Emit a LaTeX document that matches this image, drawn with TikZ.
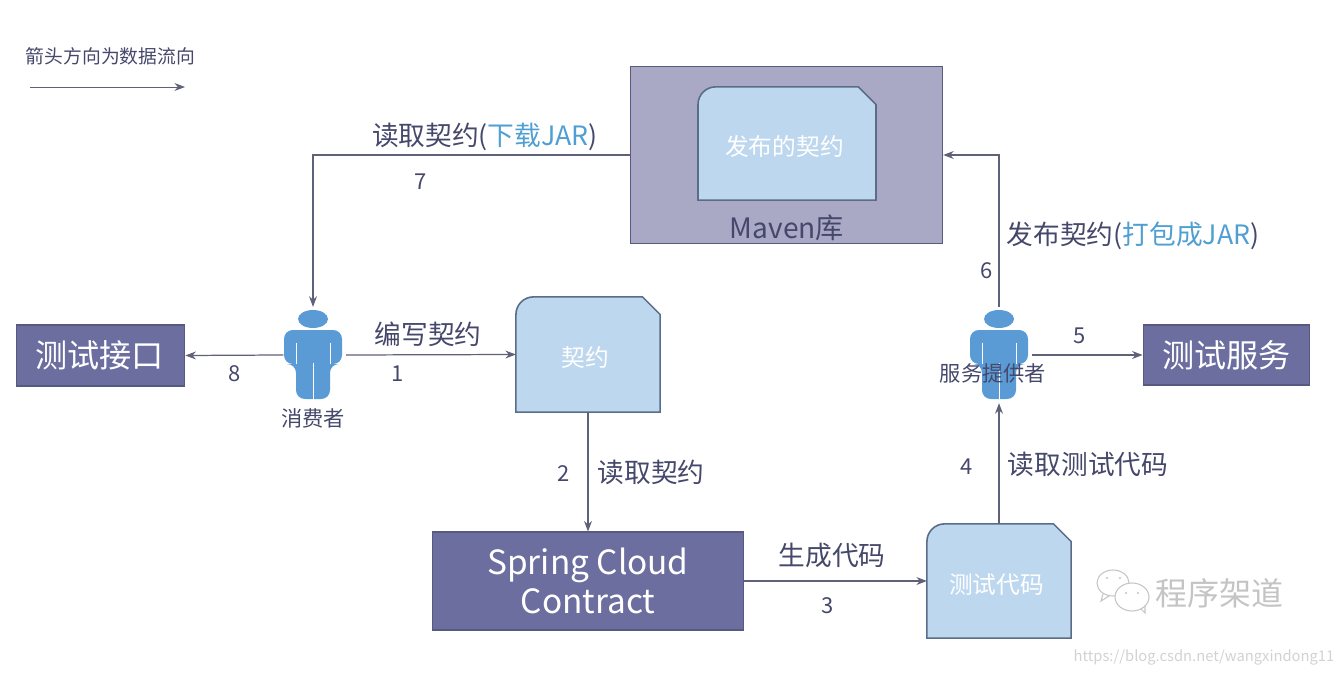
\documentclass[tikz,border=0pt]{standalone}
\usepackage{fontspec}
\setmainfont{Noto Sans CJK SC}
\usetikzlibrary{backgrounds,arrows.meta}
\definecolor{darkbox}{HTML}{6B6E9F}
\definecolor{darkline}{HTML}{565A80}
\definecolor{mavenbox}{HTML}{A9A9C6}
\definecolor{docfill}{HTML}{BDD7EE}
\definecolor{docline}{HTML}{5A6C88}
\definecolor{labeltext}{HTML}{45486B}
\definecolor{jarblue}{HTML}{4F9FD2}
\definecolor{personblue}{HTML}{5B9BD5}
\definecolor{wmgrey}{HTML}{C4C4C4}
\definecolor{flowline}{HTML}{5F6178}
\tikzset{
  solidbox/.style={draw=darkline, fill=darkbox, line width=0.8pt, text=white, align=center, inner sep=0pt},
  docbox/.style={text=white, inner sep=0pt, text height=15.3pt, text depth=1.6pt, execute at end node=\hspace*{2.8pt}, font=\fontsize{13.5}{16}\selectfont},
  flowlabel/.style={text=labeltext, inner sep=0pt, font=\fontsize{15.2}{18}\selectfont},
  stepnum/.style={text=labeltext, inner sep=0pt, font=\fontsize{12.5}{15}\selectfont},
  personbox/.style={minimum width=66*0.5669pt, minimum height=96*0.5669pt, inner sep=0pt},
  personname/.style={text=labeltext, inner sep=0pt, font=\fontsize{12.1}{14}\selectfont},
  flow/.style={->, draw=flowline, line width=0.7pt},
}
\newcommand{\snipbox}[1]{
  \begin{pgfonlayer}{background}
  \draw[fill=docfill, draw=docline, line width=0.9pt] (#1.south west) -- ([yshift=-10pt]#1.north west)
    .. controls ([yshift=-4.5pt]#1.north west) and ([xshift=4.5pt]#1.north west) .. ([xshift=10pt]#1.north west)
    -- ([xshift=-10pt]#1.north east) -- ([yshift=-10pt]#1.north east) -- (#1.south east) -- cycle;
  \end{pgfonlayer}
}
\newcommand{\personfig}[1]{
  \begin{scope}[shift={(#1.center)}]
  \fill[personblue] (0,-36) ellipse [x radius=15, y radius=9];
  \fill[personblue, rounded corners=5pt] (-29,9) -- (-29,-25) -- (29,-25) -- (29,9) -- (17,9) -- (17,44) -- (-17,44) -- (-17,9) -- cycle;
  \draw[white, line width=0.4pt] (-17,-12) -- (-17,9) (17,-12) -- (17,9) (0,8) -- (0,44);
  \end{scope}
}
\begin{document}
\begin{tikzpicture}[>={Stealth[length=6pt,width=4.5pt]}, x=0.02cm, y=-0.02cm]
\useasboundingbox (0,0) rectangle (1340,676);
\node[text=labeltext, inner sep=0pt, font=\fontsize{10.7}{12}\selectfont] (legend) at (110.5,56) {箭头方向为数据流向};
\coordinate (legendstart) at (30,87);
\coordinate (legendend) at (185,87);
\draw[flow, line width=0.55pt] (legendstart) -- (legendend);
% boxes
\begin{pgfonlayer}{background}
\node[draw=darkline, fill=mavenbox, line width=0.9pt, minimum width=313*0.5669pt, minimum height=178*0.5669pt] (maven) at (786.5,155) {};
\end{pgfonlayer}
\node[docbox, minimum width=178*0.5669pt, minimum height=113*0.5669pt] (published) at (787,143.5) {发布的契约};
\snipbox{published}
\node[flowlabel, font=\fontsize{16}{18}\selectfont] (mavenname) at (787,228) {Maven库};
\node[solidbox, minimum width=169*0.5669pt, minimum height=61*0.5669pt, font=\fontsize{18.3}{21}\selectfont] (testapi) at (100.5,355.5) {测试接口\hspace*{1.2pt}};
\node[solidbox, minimum width=167*0.5669pt, minimum height=60*0.5669pt, font=\fontsize{18.3}{21}\selectfont] (testservice) at (1226.5,355) {测试服务};
\node[docbox, minimum width=144*0.5669pt, minimum height=115*0.5669pt] (contract) at (588,354.5) {契约};
\snipbox{contract}
\node[solidbox, minimum width=312*0.5669pt, minimum height=98*0.5669pt, font=\fontsize{19}{22}\selectfont] (spring) at (588,581) {Spring Cloud\\Contract};
\node[docbox, minimum width=144*0.5669pt, minimum height=114*0.5669pt] (testcode) at (999,581) {测试代码};
\snipbox{testcode}
% people
\node[personbox] (consumer) at (313,355) {};
\personfig{consumer}
\node[personbox] (provider) at (999,355) {};
\personfig{provider}
\node[personname] (consumername) at (313,418) {消费者};
\node[personname] (providername) at (993,373) {服务提供者};
% flows
\draw[flow] (consumer.east) -- (contract.west);
\draw[flow] (contract.south) -- (spring.north);
\draw[flow] (spring.east) -- (testcode.west);
\draw[flow] (testcode.north) -- (provider.south);
\draw[flow] (provider.east) -- (testservice.west);
\draw[flow] (provider.north) |- (maven.east);
\draw[flow] (maven.west) -| (consumer.north);
\draw[flow, shorten <=-2pt] (consumer.west) -- (testapi.east);
% labels
\node[flowlabel] (readjar) at (485,137) {读取契约({\color{jarblue}下载JAR})};
\node[flowlabel] (writecontract) at (428,334) {编写契约};
\node[flowlabel] (readcontract) at (651,472) {读取契约};
\node[flowlabel] (gencode) at (832,555) {生成代码};
\node[flowlabel] (readtest) at (1088,464) {读取测试代码};
\node[flowlabel] (packjar) at (1133,236) {发布契约({\color{jarblue}打包成JAR})};
\node[stepnum] (one) at (397.5,373.5) {1};
\node[stepnum] (two) at (564,474) {2};
\node[stepnum] (three) at (828,606) {3};
\node[stepnum] (four) at (966.5,466.5) {4};
\node[stepnum] (five) at (1080,335.5) {5};
\node[stepnum] (six) at (986.5,271) {6};
\node[stepnum] (seven) at (420.5,182) {7};
\node[stepnum] (eight) at (234.5,374) {8};
% watermark
\draw[wmgrey, line width=0.6pt] (1113,583) ellipse [x radius=16, y radius=13];
\draw[wmgrey, line width=0.6pt] (1103,594) -- (1101,601) -- (1109,596);
\draw[wmgrey, fill=white, line width=0.6pt] (1132,597) ellipse [x radius=17, y radius=14];
\draw[wmgrey, line width=0.6pt] (1141,609) -- (1145,613) -- (1145,606);
\fill[wmgrey] (1107,578) circle [radius=1.2] (1120,578) circle [radius=1.2] (1126,593) circle [radius=1.2] (1138,593) circle [radius=1.2];
\node[text=wmgrey, inner sep=0pt, font=\fontsize{18.2}{21}\selectfont] (brand) at (1219.5,593) {程序架道};
\node[text=gray!35, inner sep=0pt, font=\fontsize{8.4}{10}\selectfont] (url) at (1204,657) {https://blog.csdn.net/wangxindong11};
\end{tikzpicture}
\end{document}
